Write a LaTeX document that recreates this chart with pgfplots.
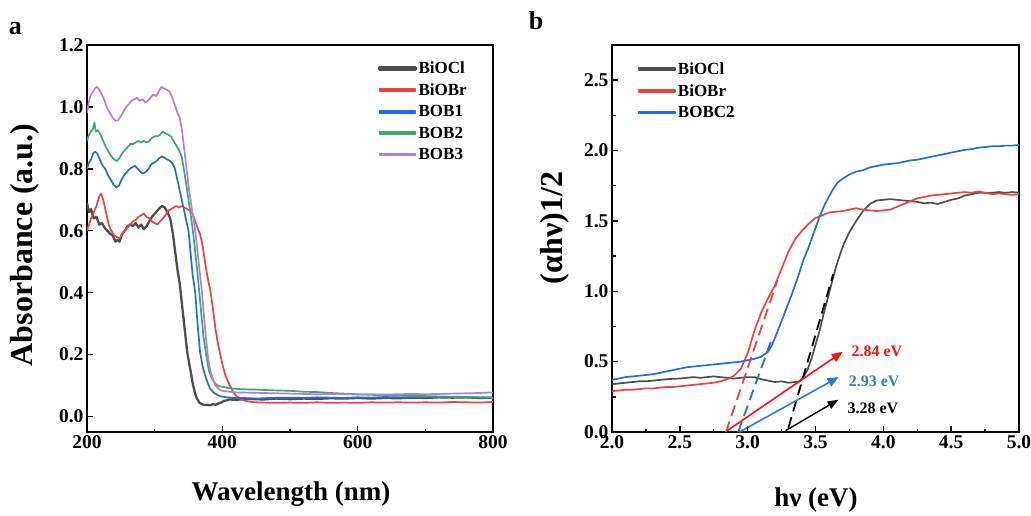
\documentclass[border=0pt]{standalone}
\usepackage{pgfplots}
\pgfplotsset{compat=1.18}
\usetikzlibrary{arrows.meta}
\usepackage{fontspec}
\setmainfont{Liberation Serif}

\definecolor{cOCl}{HTML}{4D4D4D}
\definecolor{cOBr}{HTML}{F04040}
\definecolor{cB1}{HTML}{1E6FDB}
\definecolor{cB2}{HTML}{3BA86B}
\definecolor{cB3}{HTML}{B07FE0}
\definecolor{cNoteRed}{HTML}{FF1010}
\definecolor{cNoteBlue}{HTML}{2A7BDA}

\pgfplotsset{
  curve/.style={line width=1.7pt, line join=round},
  panel/.style={
  scale only axis, anchor=south west, width=406pt, height=387pt,
  axis line style={line width=1.6pt}, tick style={line width=1.4pt,black},
  major tick length=6pt, minor tick length=3.5pt, tick align=inside,
  xtick pos=bottom, ytick pos=left,
  tick label style={font=\fontsize{19.5}{22}\selectfont\bfseries},
  /pgf/number format/assume math mode=true,
  /pgf/number format/.cd, fixed, fixed zerofill, precision=1, /pgfplots/.cd,
  scaled ticks=false,
  legend cell align=left,
  legend style={draw=none, fill=none, anchor=north west,
    font=\fontsize{17}{20}\selectfont\bfseries, row sep=4.5pt, inner sep=0pt},
  legend image code/.code={\fill[##1] (0pt,-1pt) rectangle (36pt,1pt);},
}}

\begin{document}
\begin{tikzpicture}
\path[use as bounding box] (0,0) rectangle (1031pt,515pt);

% ---------- panel a ----------
\begin{axis}[panel, at={(87pt,83pt)},
  xmin=200, xmax=800, ymin=-0.05, ymax=1.2,
  xtick={200,400,600,800}, minor xtick={300,500,700},
  ytick={0,0.2,0.4,0.6,0.8,1.0,1.2},
  xticklabel style={/pgf/number format/precision=0},
  legend style={at={(axis description cs:0.717,0.962)}},
]
\addplot[cOCl, line width=2.3pt, line join=round] coordinates {(200,0.69) (203,0.66) (206,0.67) (210,0.64) (214,0.645) (218,0.62) (222,0.625) (226,0.61) (230,0.60) (234,0.59) (238,0.585) (242,0.565) (245,0.57) (248,0.565) (252,0.59) (256,0.60) (260,0.615) (264,0.62) (268,0.615) (272,0.625) (276,0.61) (280,0.62) (284,0.605) (288,0.615) (292,0.63) (296,0.645) (300,0.655) (304,0.665) (308,0.675) (311,0.68) (315,0.675) (319,0.66) (323,0.64) (327,0.59) (331,0.52) (334,0.47) (337,0.43) (341,0.35) (345,0.27) (348,0.21) (352,0.16) (356,0.11) (359,0.08) (362,0.06) (366,0.045) (370,0.04) (374,0.037) (378,0.038) (382,0.036) (386,0.04) (390,0.038) (394,0.042) (398,0.045) (402,0.05) (406,0.052) (410,0.055) (420,0.054) (440,0.057) (460,0.055) (480,0.058) (500,0.056) (520,0.058) (540,0.057) (560,0.059) (580,0.058) (600,0.06) (620,0.058) (640,0.06) (660,0.059) (680,0.061) (700,0.06) (720,0.062) (740,0.061) (760,0.062) (780,0.06) (800,0.061)};
\addlegendentry{BiOCl}
\addplot[curve, cOBr] coordinates {(200,0.60) (203,0.62) (206,0.64) (210,0.66) (214,0.68) (218,0.71) (221,0.72) (224,0.70) (228,0.66) (232,0.62) (236,0.60) (240,0.585) (244,0.58) (248,0.575) (252,0.59) (256,0.60) (260,0.61) (264,0.62) (268,0.63) (272,0.635) (276,0.645) (280,0.65) (284,0.655) (288,0.645) (292,0.64) (296,0.63) (300,0.625) (304,0.62) (308,0.63) (312,0.64) (316,0.65) (320,0.665) (324,0.67) (328,0.675) (332,0.68) (336,0.675) (340,0.68) (344,0.675) (348,0.67) (352,0.665) (356,0.655) (360,0.63) (364,0.605) (367,0.59) (371,0.55) (375,0.49) (379,0.44) (382,0.41) (386,0.35) (390,0.28) (394,0.23) (397,0.20) (401,0.16) (405,0.13) (411,0.10) (416,0.08) (421,0.065) (426,0.058) (432,0.052) (440,0.048) (450,0.046) (460,0.045) (480,0.044) (500,0.045) (520,0.044) (540,0.046) (560,0.044) (580,0.045) (600,0.044) (620,0.046) (640,0.045) (660,0.046) (680,0.045) (700,0.046) (720,0.045) (740,0.047) (760,0.046) (780,0.045) (800,0.047)};
\addlegendentry{BiOBr}
\addplot[curve, cB1] coordinates {(200,0.80) (203,0.82) (206,0.83) (209,0.85) (212,0.855) (215,0.85) (219,0.83) (223,0.81) (227,0.80) (231,0.78) (235,0.765) (239,0.75) (243,0.74) (247,0.745) (251,0.765) (255,0.78) (259,0.79) (263,0.80) (267,0.805) (271,0.81) (275,0.80) (279,0.79) (283,0.785) (287,0.79) (291,0.80) (295,0.815) (299,0.82) (303,0.825) (307,0.835) (311,0.84) (315,0.835) (319,0.83) (323,0.825) (327,0.815) (330,0.80) (334,0.76) (338,0.72) (342,0.68) (346,0.64) (350,0.60) (353,0.53) (356,0.46) (360,0.40) (363,0.31) (367,0.21) (371,0.16) (375,0.13) (379,0.105) (382,0.09) (386,0.08) (390,0.073) (395,0.067) (400,0.064) (407,0.062) (415,0.06) (430,0.06) (450,0.058) (470,0.06) (500,0.061) (520,0.06) (540,0.062) (560,0.061) (580,0.06) (600,0.062) (620,0.061) (640,0.063) (660,0.062) (680,0.061) (700,0.063) (720,0.062) (740,0.063) (760,0.062) (780,0.061) (800,0.062)};
\addlegendentry{BOB1}
\addplot[curve, cB2] coordinates {(200,0.89) (203,0.91) (206,0.92) (209,0.93) (211,0.95) (213,0.92) (216,0.925) (220,0.91) (224,0.89) (228,0.87) (232,0.855) (236,0.84) (240,0.83) (244,0.825) (248,0.835) (252,0.85) (256,0.86) (260,0.87) (264,0.88) (268,0.88) (272,0.885) (276,0.89) (280,0.885) (284,0.89) (288,0.885) (292,0.89) (296,0.90) (300,0.905) (304,0.905) (308,0.91) (312,0.92) (316,0.915) (320,0.91) (324,0.905) (328,0.89) (332,0.875) (336,0.86) (340,0.84) (343,0.80) (346,0.76) (350,0.70) (354,0.64) (357,0.59) (360,0.53) (363,0.47) (366,0.40) (369,0.33) (372,0.26) (376,0.20) (380,0.15) (384,0.125) (388,0.11) (393,0.10) (398,0.097) (405,0.094) (415,0.09) (430,0.088) (450,0.087) (470,0.085) (500,0.083) (520,0.08) (540,0.079) (560,0.076) (580,0.074) (600,0.072) (620,0.07) (640,0.069) (660,0.068) (680,0.066) (700,0.066) (720,0.065) (740,0.064) (760,0.063) (780,0.062) (800,0.06)};
\addlegendentry{BOB2}
\addplot[curve, cB3] coordinates {(200,0.98) (203,1.02) (206,1.04) (209,1.05) (212,1.06) (215,1.065) (218,1.055) (222,1.04) (226,1.02) (230,0.995) (234,0.98) (238,0.965) (242,0.955) (246,0.957) (250,0.97) (254,0.985) (258,1.0) (262,1.01) (266,1.02) (270,1.025) (274,1.03) (278,1.02) (282,1.025) (286,1.015) (290,1.02) (294,1.03) (298,1.04) (302,1.035) (306,1.05) (310,1.065) (314,1.06) (318,1.055) (322,1.05) (326,1.03) (330,1.005) (334,0.98) (337,0.965) (340,0.93) (344,0.86) (347,0.80) (351,0.73) (355,0.67) (358,0.63) (361,0.58) (364,0.52) (367,0.46) (370,0.40) (373,0.32) (376,0.25) (379,0.19) (382,0.15) (386,0.12) (390,0.10) (395,0.088) (400,0.083) (410,0.08) (420,0.078) (440,0.077) (460,0.076) (480,0.075) (500,0.074) (520,0.073) (540,0.072) (560,0.073) (580,0.072) (600,0.071) (620,0.072) (640,0.071) (660,0.072) (680,0.073) (700,0.072) (720,0.073) (740,0.074) (760,0.075) (780,0.076) (800,0.078)};
\addlegendentry{BOB3}
\end{axis}

% ---------- panel b ----------
\begin{axis}[panel, at={(612pt,83pt)}, width=407pt,
  xmin=2, xmax=5, ymin=0, ymax=2.75,
  xtick={2,2.5,...,5}, minor x tick num=1,
  ytick={0,0.5,...,2.5}, minor y tick num=1,
  legend style={at={(axis description cs:0.064,0.96)}},
]
\addplot[curve, cOCl] coordinates {(2.0,0.34) (2.05,0.345) (2.1,0.35) (2.15,0.355) (2.2,0.36) (2.25,0.36) (2.3,0.365) (2.35,0.37) (2.4,0.375) (2.45,0.378) (2.5,0.38) (2.55,0.385) (2.6,0.39) (2.65,0.385) (2.7,0.39) (2.75,0.395) (2.8,0.39) (2.85,0.385) (2.9,0.38) (2.95,0.385) (3.0,0.39) (3.05,0.39) (3.1,0.375) (3.15,0.365) (3.2,0.355) (3.25,0.36) (3.3,0.35) (3.35,0.355) (3.38,0.36) (3.41,0.39) (3.44,0.44) (3.47,0.52) (3.5,0.62) (3.53,0.72) (3.56,0.84) (3.59,0.95) (3.62,1.06) (3.65,1.17) (3.68,1.26) (3.71,1.34) (3.75,1.42) (3.8,1.5) (3.85,1.57) (3.9,1.62) (3.95,1.645) (4.0,1.65) (4.05,1.655) (4.1,1.65) (4.15,1.645) (4.2,1.64) (4.25,1.635) (4.3,1.625) (4.35,1.63) (4.4,1.62) (4.45,1.635) (4.5,1.65) (4.55,1.66) (4.6,1.68) (4.65,1.69) (4.7,1.70) (4.75,1.70) (4.8,1.70) (4.85,1.705) (4.9,1.70) (4.95,1.705) (5.0,1.70)};
\addlegendentry{BiOCl}
\addplot[curve, cOBr] coordinates {(2.0,0.29) (2.05,0.295) (2.1,0.30) (2.15,0.30) (2.2,0.305) (2.25,0.31) (2.3,0.31) (2.35,0.315) (2.4,0.32) (2.45,0.32) (2.5,0.325) (2.55,0.33) (2.6,0.335) (2.65,0.34) (2.7,0.345) (2.75,0.35) (2.8,0.36) (2.85,0.375) (2.9,0.40) (2.95,0.45) (3.0,0.56) (3.05,0.72) (3.1,0.85) (3.15,0.95) (3.2,1.04) (3.25,1.16) (3.3,1.28) (3.35,1.37) (3.4,1.43) (3.45,1.48) (3.5,1.52) (3.55,1.54) (3.6,1.56) (3.65,1.565) (3.7,1.57) (3.75,1.58) (3.8,1.59) (3.85,1.58) (3.9,1.575) (3.95,1.57) (4.0,1.575) (4.05,1.58) (4.1,1.60) (4.15,1.62) (4.2,1.64) (4.25,1.66) (4.3,1.67) (4.35,1.68) (4.4,1.685) (4.45,1.69) (4.5,1.695) (4.55,1.70) (4.6,1.705) (4.65,1.70) (4.7,1.71) (4.75,1.70) (4.8,1.69) (4.85,1.695) (4.9,1.69) (4.95,1.685) (5.0,1.69)};
\addlegendentry{BiOBr}
\addplot[curve, cB1] coordinates {(2.0,0.37) (2.05,0.38) (2.1,0.39) (2.15,0.395) (2.2,0.40) (2.25,0.405) (2.3,0.41) (2.35,0.42) (2.4,0.43) (2.45,0.44) (2.5,0.45) (2.55,0.46) (2.6,0.465) (2.65,0.47) (2.7,0.475) (2.75,0.48) (2.8,0.485) (2.85,0.49) (2.9,0.495) (2.95,0.50) (3.0,0.51) (3.05,0.52) (3.1,0.535) (3.15,0.57) (3.18,0.62) (3.21,0.69) (3.25,0.79) (3.29,0.89) (3.33,0.99) (3.37,1.1) (3.41,1.22) (3.46,1.34) (3.5,1.45) (3.53,1.53) (3.57,1.62) (3.62,1.71) (3.66,1.77) (3.7,1.80) (3.75,1.83) (3.8,1.85) (3.85,1.86) (3.9,1.88) (3.95,1.89) (4.0,1.90) (4.05,1.905) (4.1,1.91) (4.15,1.92) (4.2,1.93) (4.25,1.935) (4.3,1.945) (4.35,1.955) (4.4,1.965) (4.45,1.975) (4.5,1.985) (4.55,1.995) (4.6,2.005) (4.65,2.01) (4.7,2.02) (4.75,2.025) (4.8,2.03) (4.85,2.03) (4.9,2.035) (4.95,2.035) (5.0,2.04)};
\addlegendentry{BOBC2}
% tangent (Tauc) lines
\addplot[cOBr, line width=1.8pt, dash pattern=on 11pt off 6pt] coordinates {(2.84,0) (3.22,1.08)};
\addplot[cB1, line width=1.8pt, dash pattern=on 11pt off 6pt] coordinates {(2.93,0) (3.17,0.64)};
\addplot[black, line width=1.8pt, dash pattern=on 11pt off 6pt] coordinates {(3.30,0.03) (3.63,1.12)};
% arrows and gap values
\draw[cNoteRed, line width=1.6pt, -{Triangle[length=11pt,width=9pt]}] (axis cs:2.85,0.01) -- (axis cs:3.70,0.57);
\draw[cNoteBlue, line width=1.6pt, -{Triangle[length=11pt,width=9pt]}] (axis cs:2.94,0.0) -- (axis cs:3.67,0.39);
\draw[black, line width=1.4pt, -{Triangle[length=11pt,width=8pt]}] (axis cs:3.28,0.01) -- (axis cs:3.67,0.23);
\node[anchor=west, text=cNoteRed, font=\fontsize{16}{18}\selectfont\bfseries] at (axis cs:3.74,0.57) {2.84 eV};
\node[anchor=west, text=cNoteBlue, font=\fontsize{16}{18}\selectfont\bfseries] at (axis cs:3.72,0.36) {2.93 eV};
\node[anchor=west, text=black, font=\fontsize{16}{18}\selectfont\bfseries] at (axis cs:3.71,0.17) {3.28 eV};
\end{axis}

% ---------- outer labels ----------
\node[font=\fontsize{26}{28}\selectfont\bfseries, anchor=base] at (15.5pt,480pt) {a};
\node[font=\fontsize{26}{28}\selectfont\bfseries, anchor=base] at (536pt,485pt) {b};
\node[font=\fontsize{27}{30}\selectfont\bfseries, anchor=base] at (291pt,15pt) {Wavelength (nm)};
\node[font=\fontsize{27}{30}\selectfont\bfseries, anchor=base] at (816pt,9pt) {hν (eV)};
\node[font=\fontsize{32}{34}\selectfont\bfseries, rotate=90] at (25pt,270pt) {Absorbance (a.u.)};
\node[font=\fontsize{32}{34}\selectfont\bfseries, rotate=90] at (555pt,287pt) {(αhν)1/2};
\end{tikzpicture}
\end{document}
